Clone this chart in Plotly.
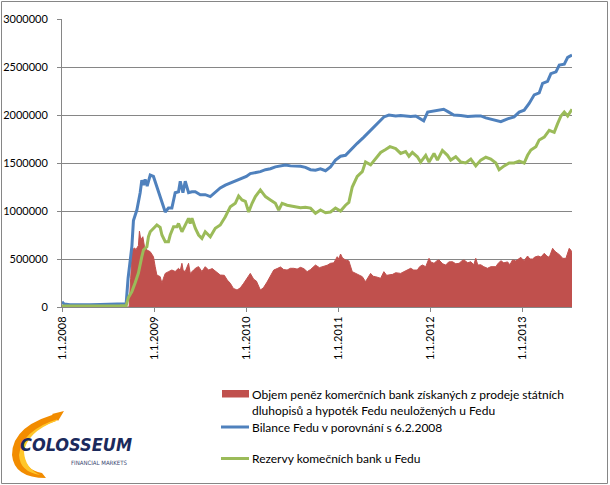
import plotly.graph_objects as go

# ---------------- data (values in thousands, time in decimal years) ----------------
bilance_t = [2008.000, 2008.022, 2008.087, 2008.196, 2008.304, 2008.413, 2008.522, 2008.630, 2008.696,
             2008.717, 2008.739, 2008.758, 2008.775, 2008.812, 2008.848, 2008.866, 2008.884, 2008.902,
             2008.924, 2008.957, 2008.992, 2009.029, 2009.065, 2009.101, 2009.120, 2009.155, 2009.192,
             2009.228, 2009.264, 2009.283, 2009.312, 2009.337, 2009.373, 2009.410, 2009.446, 2009.500,
             2009.554, 2009.609, 2009.663, 2009.717, 2009.772, 2009.826, 2009.880, 2009.935, 2010.000,
             2010.043, 2010.098, 2010.152, 2010.207, 2010.261, 2010.315, 2010.370, 2010.424, 2010.478,
             2010.533, 2010.587, 2010.641, 2010.696, 2010.750, 2010.804, 2010.859, 2010.913, 2010.967,
             2011.022, 2011.076, 2011.130, 2011.203, 2011.275, 2011.348, 2011.421, 2011.492, 2011.547,
             2011.620, 2011.674, 2011.728, 2011.783, 2011.837, 2011.891, 2011.924, 2011.967, 2012.033,
             2012.087, 2012.141, 2012.196, 2012.250, 2012.326, 2012.402, 2012.489, 2012.543, 2012.598,
             2012.652, 2012.707, 2012.761, 2012.834, 2012.905, 2012.960, 2013.014, 2013.068, 2013.123,
             2013.177, 2013.214, 2013.268, 2013.304, 2013.359, 2013.395, 2013.449, 2013.486, 2013.533]
bilance_k = [55, 32, 24, 22, 24, 27, 30, 32, 34,
             300, 500, 630, 900, 1010, 1190, 1320, 1270, 1330,
             1260, 1375, 1360, 1250, 1150, 1045, 990, 1030, 1030,
             1190, 1200, 1310, 1190, 1310, 1190, 1200, 1200, 1170,
             1170, 1150, 1200, 1240, 1270, 1290, 1310, 1330, 1360,
             1390, 1400, 1410, 1430, 1440, 1460, 1470, 1480, 1470,
             1470, 1465, 1455, 1430, 1425, 1440, 1420, 1460, 1530,
             1570, 1580, 1635, 1705, 1770, 1840, 1910, 1980, 2000,
             1990, 1995, 1990, 1985, 1990, 1960, 1940, 2030, 2040,
             2050, 2060, 2030, 2000, 1995, 1985, 1990, 1990, 1970,
             1955, 1940, 1930, 1960, 1980, 2030, 2050, 2120, 2210,
             2230, 2330, 2350, 2430, 2450, 2520, 2530, 2600, 2625]

rezervy_t = [2008.000, 2008.196, 2008.413, 2008.630, 2008.696, 2008.721, 2008.758, 2008.793, 2008.829,
             2008.866, 2008.884, 2008.921, 2008.938, 2008.957, 2008.992, 2009.029, 2009.065, 2009.084,
             2009.120, 2009.155, 2009.174, 2009.210, 2009.247, 2009.264, 2009.301, 2009.337, 2009.373,
             2009.391, 2009.410, 2009.446, 2009.482, 2009.518, 2009.554, 2009.609, 2009.663, 2009.717,
             2009.772, 2009.826, 2009.880, 2009.916, 2009.953, 2009.989, 2010.025, 2010.062, 2010.098,
             2010.152, 2010.207, 2010.261, 2010.315, 2010.351, 2010.388, 2010.442, 2010.514, 2010.587,
             2010.641, 2010.696, 2010.750, 2010.804, 2010.859, 2010.913, 2010.967, 2011.022, 2011.076,
             2011.112, 2011.149, 2011.203, 2011.258, 2011.293, 2011.348, 2011.402, 2011.457, 2011.511,
             2011.558, 2011.620, 2011.674, 2011.728, 2011.764, 2011.801, 2011.855, 2011.891, 2011.946,
             2011.982, 2012.036, 2012.073, 2012.127, 2012.182, 2012.217, 2012.272, 2012.326, 2012.380,
             2012.435, 2012.489, 2012.543, 2012.598, 2012.652, 2012.707, 2012.742, 2012.797, 2012.851,
             2012.905, 2012.960, 2013.014, 2013.051, 2013.087, 2013.141, 2013.177, 2013.232, 2013.286,
             2013.340, 2013.377, 2013.413, 2013.449, 2013.486, 2013.533]
rezervy_k = [10, 8, 10, 12, 15, 100, 160, 250, 354,
             524, 594, 628, 732, 784, 820, 854, 830, 750,
             680, 680, 750, 836, 836, 870, 784, 854, 924,
             870, 924, 820, 750, 715, 784, 732, 820, 854,
             940, 1045, 1080, 1156, 1115, 1100, 990, 1080, 1150,
             1220, 1150, 1115, 1080, 1010, 1080, 1060, 1045, 1035,
             1040, 1030, 976, 1010, 982, 990, 1030, 1000, 1060,
             1090, 1250, 1360, 1410, 1510, 1480, 1550, 1610, 1640,
             1670, 1650, 1600, 1620, 1570, 1610, 1565, 1510, 1580,
             1510, 1600, 1530, 1630, 1580, 1530, 1565, 1510, 1500,
             1540, 1470, 1530, 1560, 1540, 1500, 1430, 1470, 1500,
             1500, 1520, 1500, 1580, 1635, 1670, 1740, 1770, 1840,
             1820, 1910, 1990, 2030, 1990, 2060]

objem_t = [2008.000, 2008.728, 2008.745, 2008.761, 2008.783, 2008.804, 2008.829, 2008.840, 2008.855,
           2008.877, 2008.895, 2008.921, 2008.957, 2008.992, 2009.011, 2009.029, 2009.065, 2009.084,
           2009.101, 2009.120, 2009.155, 2009.192, 2009.228, 2009.264, 2009.283, 2009.301, 2009.315,
           2009.337, 2009.373, 2009.391, 2009.427, 2009.457, 2009.482, 2009.518, 2009.554, 2009.590,
           2009.630, 2009.674, 2009.717, 2009.761, 2009.793, 2009.826, 2009.859, 2009.899, 2009.935,
           2009.971, 2010.008, 2010.043, 2010.079, 2010.109, 2010.152, 2010.185, 2010.225, 2010.261,
           2010.297, 2010.334, 2010.370, 2010.405, 2010.442, 2010.478, 2010.514, 2010.551, 2010.587,
           2010.623, 2010.660, 2010.696, 2010.750, 2010.793, 2010.840, 2010.877, 2010.913, 2010.949,
           2010.986, 2011.003, 2011.022, 2011.043, 2011.076, 2011.112, 2011.149, 2011.185, 2011.221,
           2011.258, 2011.293, 2011.315, 2011.348, 2011.375, 2011.402, 2011.457, 2011.492, 2011.522,
           2011.547, 2011.587, 2011.620, 2011.674, 2011.710, 2011.750, 2011.783, 2011.815, 2011.855,
           2011.880, 2011.910, 2011.946, 2011.982, 2012.000, 2012.036, 2012.065, 2012.090, 2012.130,
           2012.163, 2012.196, 2012.236, 2012.272, 2012.308, 2012.337, 2012.362, 2012.402, 2012.435,
           2012.467, 2012.489, 2012.511, 2012.543, 2012.576, 2012.616, 2012.652, 2012.707, 2012.728,
           2012.761, 2012.793, 2012.834, 2012.859, 2012.888, 2012.924, 2012.957, 2012.978, 2013.011,
           2013.051, 2013.076, 2013.105, 2013.130, 2013.166, 2013.196, 2013.232, 2013.261, 2013.286,
           2013.323, 2013.348, 2013.377, 2013.402, 2013.432, 2013.467, 2013.503, 2013.522, 2013.533]
objem_k = [0, 0, 300, 580, 615, 600, 640, 790, 700,
           732, 628, 594, 576, 524, 420, 333, 316, 247,
           300, 350, 368, 385, 370, 403, 380, 455, 380,
           370, 455, 350, 385, 410, 420, 370, 420, 385,
           400, 370, 333, 330, 281, 247, 194, 177, 200,
           247, 300, 350, 290, 270, 177, 200, 260, 330,
           385, 400, 417, 390, 385, 403, 403, 395, 413,
           400, 368, 390, 437, 410, 420, 435, 455, 460,
           524, 500, 552, 510, 490, 480, 368, 350, 333,
           316, 264, 300, 350, 320, 316, 299, 368, 330,
           333, 340, 357, 350, 368, 390, 403, 385, 385,
           420, 437, 420, 507, 470, 455, 480, 490, 450,
           437, 470, 472, 450, 455, 480, 490, 460, 472,
           440, 507, 437, 440, 420, 403, 420, 420, 450,
           482, 460, 470, 440, 490, 480, 500, 517, 480,
           531, 500, 500, 520, 531, 520, 559, 530, 517,
           611, 580, 559, 540, 507, 507, 611, 590, 559]

year_ticks = [2008, 2009, 2010, 2011, 2012, 2013]
year_labels = ["1.1.2008", "1.1.2009", "1.1.2010", "1.1.2011", "1.1.2012", "1.1.2013"]
y_ticks = [0, 500000, 1000000, 1500000, 2000000, 2500000, 3000000]

legend_names = ["Objem peněz komerčních bank získaných z prodeje státních",
                "dluhopisů a hypoték Fedu neuložených u Fedu",
                "Bilance Fedu v porovnání s 6.2.2008",
                "Rezervy komečních bank u Fedu"]

RED = "#C0504D"
BLUE = "#4F81BD"
GREEN = "#9BBB59"
GRID = "#868686"
FONT = "Lato"

W, H = 610, 485
L, R, T, B = 62, 38, 19, 178
PW, PH = W - L - R, H - T - B


def px(x):
    return (x - L) / PW


def py(y):
    return (H - B - y) / PH


fig = go.Figure()
fig.add_trace(go.Scatter(x=objem_t, y=[v * 1000 for v in objem_k], mode="lines",
                         fill="tozeroy", fillcolor=RED, line=dict(color=RED, width=1),
                         showlegend=False, hoverinfo="skip"))
fig.add_trace(go.Scatter(x=bilance_t, y=[v * 1000 for v in bilance_k], mode="lines",
                         line=dict(color=BLUE, width=3), showlegend=False))
fig.add_trace(go.Scatter(x=rezervy_t, y=[v * 1000 for v in rezervy_k], mode="lines",
                         line=dict(color=GREEN, width=3), showlegend=False))

fig.update_layout(
    width=W, height=H,
    margin=dict(l=L, r=R, t=T, b=B, pad=0, autoexpand=False),
    paper_bgcolor="white", plot_bgcolor="white",
    font=dict(family=FONT, size=11, color="black"),
    showlegend=False,
)
fig.update_xaxes(range=[2008, 2013.533], tickvals=year_ticks, ticktext=year_labels,
                 tickangle=-90, ticks="outside", ticklen=4, tickcolor=GRID, automargin=False,
                 showline=True, linecolor=GRID, linewidth=1, showgrid=False, zeroline=False,
                 tickfont=dict(family=FONT, size=11, color="black"))
fig.update_yaxes(range=[0, 3000000], tickvals=y_ticks, tickformat="d", automargin=False,
                 ticks="outside", ticklen=4, tickcolor=GRID,
                 showline=True, linecolor=GRID, linewidth=1,
                 showgrid=True, gridcolor=GRID, gridwidth=1, zeroline=False,
                 tickfont=dict(family=FONT, size=11, color="black"), ticklabelstandoff=7)

shapes = []
# outer border
shapes.append(dict(type="rect", xref="paper", yref="paper", x0=px(1.5), x1=px(607.5),
                   y0=py(1.5), y1=py(483.5), line=dict(color=GRID, width=1), fillcolor="rgba(0,0,0,0)"))
# legend swatches
shapes.append(dict(type="rect", xref="paper", yref="paper", x0=px(222), x1=px(249),
                   y0=py(397.5), y1=py(390), line=dict(width=0), fillcolor=RED))
shapes.append(dict(type="line", xref="paper", yref="paper", x0=px(221), x1=px(249),
                   y0=py(427), y1=py(427), line=dict(color=BLUE, width=3)))
shapes.append(dict(type="line", xref="paper", yref="paper", x0=px(221), x1=px(249),
                   y0=py(458.5), y1=py(458.5), line=dict(color=GREEN, width=3)))


# logo swoosh
def path(points):
    s = ""
    for cmd, pts in points:
        s += cmd + " " + " ".join(f"{px(a):.4f},{py(b):.4f}" for a, b in pts) + " "
    return s + "Z"


swoosh_outer = path([("M", [(63, 412)]), ("Q", [(12, 424), (12, 455)]), ("Q", [(14, 478), (46, 478)]),
                     ("L", [(42, 473)]), ("Q", [(24, 470), (23, 452)]), ("Q", [(26, 430), (56, 421)])])
swoosh_inner = path([("M", [(58, 419)]), ("Q", [(22, 430), (19, 455)]), ("Q", [(20, 472), (40, 475)]),
                     ("Q", [(25, 468), (24, 452)]), ("Q", [(27, 432), (56, 421)])])
shapes.append(dict(type="path", xref="paper", yref="paper", path=swoosh_outer,
                   fillcolor="#F28C00", line=dict(width=0)))
shapes.append(dict(type="path", xref="paper", yref="paper", path=swoosh_inner,
                   fillcolor="#FFC629", line=dict(width=0)))
shapes.append(dict(type="path", xref="paper", yref="paper",
                   path=path([("M", [(52, 414)]), ("L", [(64, 411)]), ("L", [(58, 421)])]),
                   fillcolor="#F28C00", line=dict(width=0)))
fig.update_layout(shapes=shapes)

ann = []
legend_y = [394, 410, 427, 458.5]
for name, yy in zip(legend_names, legend_y):
    ann.append(dict(xref="paper", yref="paper", x=px(250), y=py(yy), text=name, showarrow=False,
                    xanchor="left", yanchor="middle", font=dict(family=FONT, size=12, color="black")))
ann.append(dict(xref="paper", yref="paper", x=px(76), y=py(444), text="<b><i>COLOSSEUM</i></b>",
                showarrow=False, xanchor="center", yanchor="middle",
                font=dict(family="DejaVu Sans Condensed", size=18, color="#1B2A5C")))
ann.append(dict(xref="paper", yref="paper", x=px(99), y=py(462), text="FINANCIAL MARKETS",
                showarrow=False, xanchor="center", yanchor="middle",
                font=dict(family="DejaVu Sans Condensed", size=6, color="#3A4670")))
fig.update_layout(annotations=ann)

fig.write_html("out.html", config={"displayModeBar": False},
               post_script="document.body.style.margin='0';document.body.style.overflow='hidden';")
